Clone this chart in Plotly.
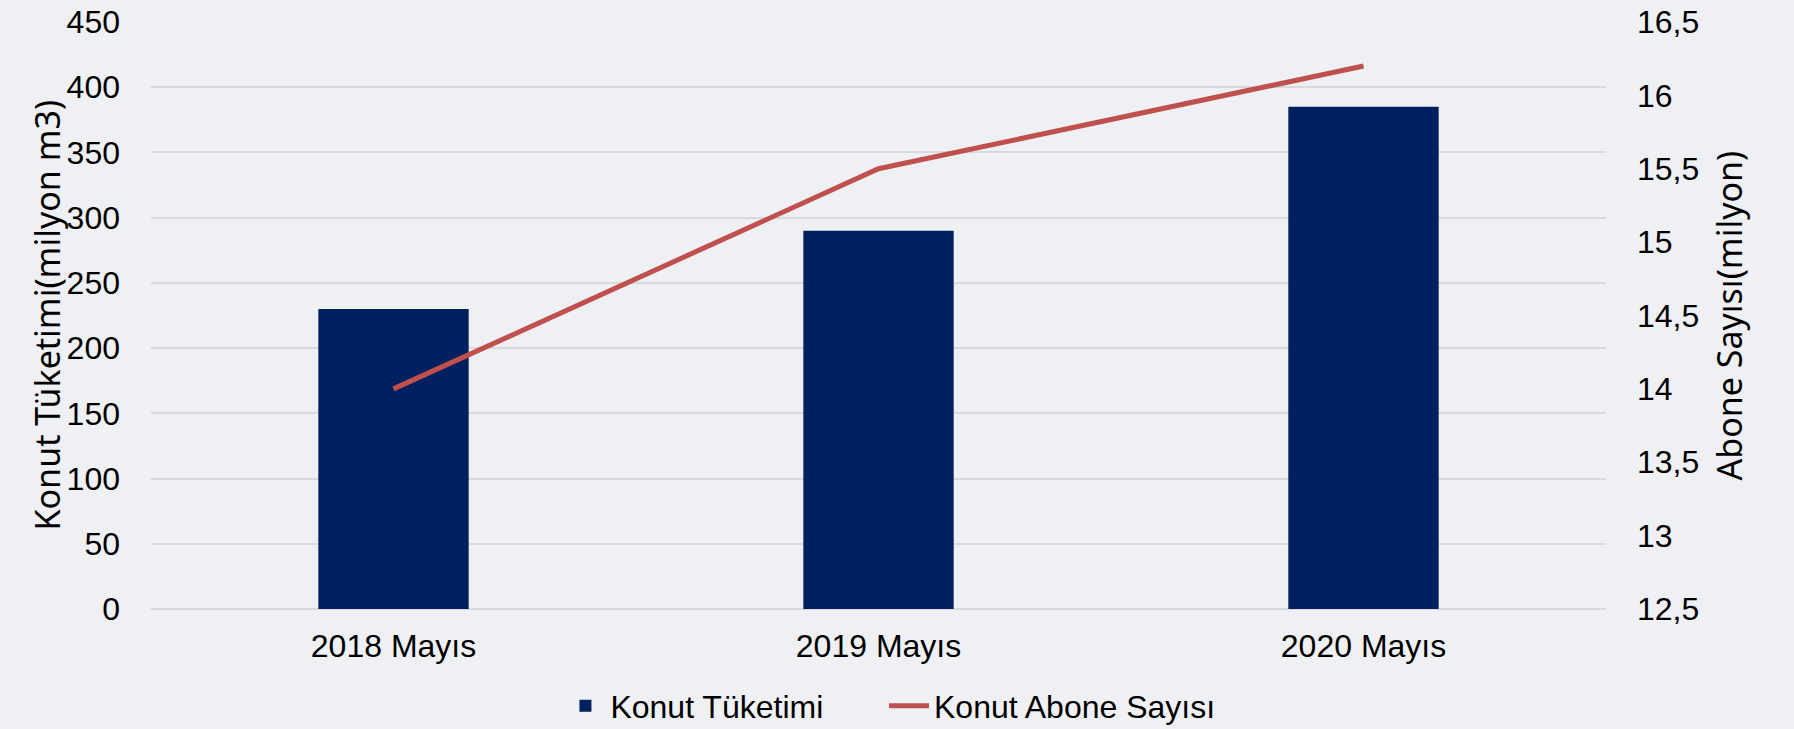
import plotly.graph_objects as go

categories = ["2018 Mayıs", "2019 Mayıs", "2020 Mayıs"]
tuketim = [230, 290, 385]          # Konut Tüketimi (milyon m3)
abone = [14.0, 15.5, 16.2]         # Konut Abone Sayısı (milyon)
left_ticks = [0, 50, 100, 150, 200, 250, 300, 350, 400, 450]
right_ticks = [12.5, 13, 13.5, 14, 14.5, 15, 15.5, 16, 16.5]

BG = "#eff0f3"
NAVY = "#002060"
RED = "#c0504d"
GRID = "#d9d9d9"
TICKFONT = dict(family="Liberation Sans, Arial, sans-serif", size=32, color="#000000")
TITLEFONT = dict(family="Noto Sans, sans-serif", size=34, color="#000000")
LEGFONT = dict(family="Liberation Sans, Arial, sans-serif", size=32, color="#000000")

fig = go.Figure()
fig.add_trace(go.Bar(
    x=categories, y=tuketim, name="Konut Tüketimi",
    marker=dict(color=NAVY, line=dict(width=0)), yaxis="y", legend="legend",
))
fig.add_trace(go.Scatter(
    x=categories, y=abone, name="Konut Abone Sayısı", mode="lines",
    line=dict(color=RED, width=5), yaxis="y2", legend="legend2",
))

fig.update_layout(
    width=1794, height=729,
    paper_bgcolor=BG, plot_bgcolor=BG,
    margin=dict(l=151, r=188, t=22, b=120, autoexpand=False),
    separators=",.",
    bargap=0.69,
    showlegend=True,
    legend=dict(
        orientation="h", x=0.2814, xanchor="left", y=-0.165, yanchor="middle",
        font=LEGFONT, bgcolor="rgba(0,0,0,0)", itemwidth=40,
    ),
    legend2=dict(
        orientation="h", x=0.5038, xanchor="left", y=-0.165, yanchor="middle",
        font=LEGFONT, bgcolor="rgba(0,0,0,0)", itemwidth=40,
    ),
    xaxis=dict(
        tickfont=TICKFONT, showgrid=False, showline=False, zeroline=False,
        ticks="", ticklabelstandoff=15, automargin=False,
    ),
    yaxis=dict(
        range=[0, 450], tickvals=left_ticks, tickfont=TICKFONT,
        showgrid=True, gridcolor=GRID, gridwidth=1.5,
        zeroline=True, zerolinecolor=GRID, zerolinewidth=1.5,
        showline=False, ticks="", ticklabelstandoff=30, automargin=False,
    ),
    yaxis2=dict(
        range=[12.5, 16.5], tickvals=right_ticks, tickfont=TICKFONT,
        overlaying="y", side="right", showgrid=False, zeroline=False,
        showline=False, ticks="", ticklabelstandoff=30, automargin=False,
    ),
    annotations=[
        dict(text="Konut Tüketimi(milyon m3)", xref="paper", yref="paper",
             x=0, xshift=-105, y=0.5, textangle=-90, showarrow=False,
             xanchor="center", yanchor="middle", font=TITLEFONT),
        dict(text="Abone Sayısı(milyon)", xref="paper", yref="paper",
             x=1, xshift=122, y=0.5, textangle=-90, showarrow=False,
             xanchor="center", yanchor="middle", font=TITLEFONT),
    ],
)

fig.write_html(
    "out.html",
    config={"displayModeBar": False},
    post_script="document.body.style.margin='0';document.body.style.background='%s';" % BG,
)
